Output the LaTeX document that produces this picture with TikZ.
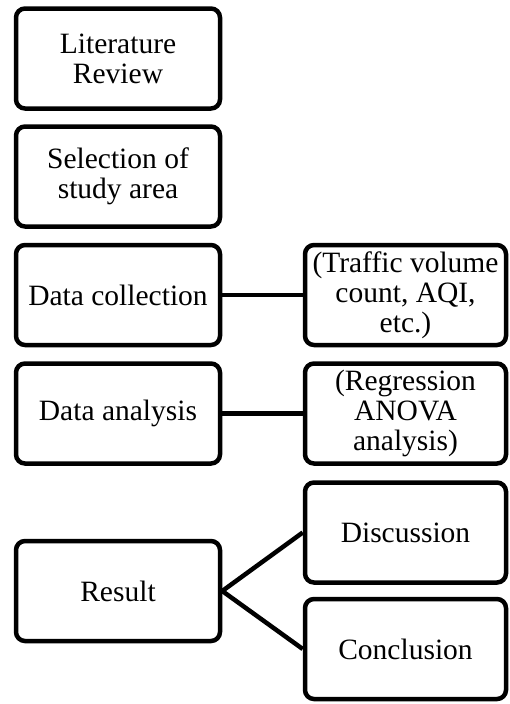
\documentclass[tikz,border=0pt]{standalone}
\usepackage{fontspec}
\setmainfont{Liberation Serif}
\begin{document}
\begin{tikzpicture}[x=1pt,y=1pt,
  box/.style={draw=black, line width=4.5pt, rounded corners=9pt, minimum width=204pt, minimum height=100pt, align=center, inner sep=0pt, font=\fontsize{29.5}{30}\selectfont},
  rbox/.style={box, minimum width=201pt},
  conn/.style={line width=4.5pt}]
\useasboundingbox (0,0) rectangle (510,-704);
\node[box] (lit) at (118,-58.5) {Literature\\Review};
\node[box] (sel) at (118,-176.5) {Selection of\\study area};
\node[box] (col) at (118,-295) {Data collection};
\node[box] (ana) at (118,-413.5) {Data analysis};
\node[box] (res) at (118,-591) {Result};
\node[rbox] (traf) at (405.5,-295) {(Traffic volume\\count, AQI,\\etc.)};
\node[rbox] (reg) at (405.5,-413.5) {(Regression\\ANOVA\\analysis)};
\node[rbox] (dis) at (405.5,-532.5) {Discussion};
\node[rbox] (con) at (405.5,-649) {Conclusion};
\draw[conn] (col.east) -- (traf.west);
\draw[conn] (ana.east) -- (reg.west);
\draw[conn] (res.east) -- (dis.west);
\draw[conn] (res.east) -- (con.west);
\end{tikzpicture}
\end{document}
